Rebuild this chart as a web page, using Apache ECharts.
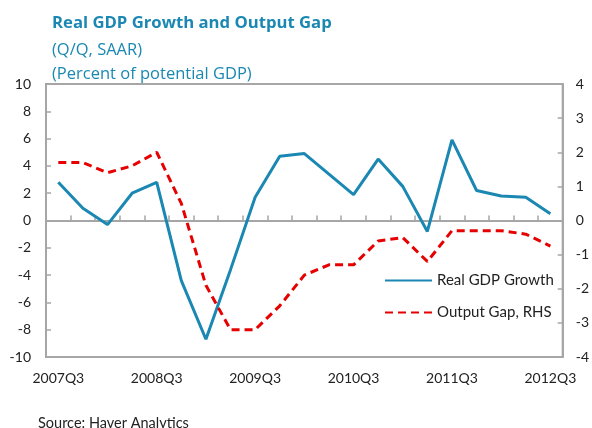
<!DOCTYPE html>
<html>
<head>
<meta charset="utf-8">
<script src="https://cdn.jsdelivr.net/npm/echarts@6/dist/echarts.min.js"></script>
<style>
html,body{margin:0;padding:0;background:#fff;}
#chart{width:592px;height:428px;}
</style>
</head>
<body>
<div id="chart"></div>
<script>
var categories = ['2007Q3','2007Q4','2008Q1','2008Q2','2008Q3','2008Q4','2009Q1','2009Q2','2009Q3','2009Q4','2010Q1','2010Q2','2010Q3','2010Q4','2011Q1','2011Q2','2011Q3','2011Q4','2012Q1','2012Q2','2012Q3'];
var gdpGrowth = [2.8, 0.9, -0.3, 2.0, 2.8, -4.4, -8.7, -3.6, 1.7, 4.7, 4.9, 3.4, 1.9, 4.5, 2.5, -0.8, 5.9, 2.2, 1.8, 1.7, 0.5];
var outputGap = [1.7, 1.7, 1.4, 1.6, 2.0, 0.5, -1.9, -3.2, -3.2, -2.5, -1.6, -1.3, -1.3, -0.6, -0.5, -1.2, -0.3, -0.3, -0.3, -0.4, -0.75];
var leftTicks = {min: -10, max: 10, interval: 2};
var rightTicks = {min: -4, max: 4, interval: 1};

var FONT = 'Lato';
var TFONT = 'Open Sans';
var GRAY = '#a6a6a6';
var TXT = '#222222';
var BLUE = '#1a88b2';
var RED = '#e60000';

var chart = echarts.init(document.getElementById('chart'));
chart.setOption({
  animation: false,
  backgroundColor: '#ffffff',
  textStyle: {fontFamily: FONT},
  title: [
    {text: 'Real GDP Growth and Output Gap', left: 47, top: 10, textStyle: {fontFamily: TFONT, fontSize: 16.7, fontWeight: 'bold', color: BLUE}},
    {text: '(Q/Q, SAAR)', left: 47, top: 37, textStyle: {fontFamily: TFONT, fontSize: 16.5, fontWeight: 'normal', color: BLUE}},
    {text: '(Percent of potential GDP)', left: 47, top: 61, textStyle: {fontFamily: TFONT, fontSize: 16.5, fontWeight: 'normal', color: BLUE}},
    {text: 'Source: Haver Analytics', left: 33, top: 411, textStyle: {fontFamily: FONT, fontSize: 14.5, fontWeight: 'normal', color: TXT}}
  ],
  grid: {left: 46, right: 25, top: 84, bottom: 71, show: true, borderColor: GRAY, borderWidth: 2, backgroundColor: 'transparent'},
  legend: {
    orient: 'vertical', left: 379, top: 268, itemWidth: 47, itemHeight: 14, itemGap: 17,
    itemStyle: {color: 'transparent', borderWidth: 0, opacity: 0},
    textStyle: {fontFamily: FONT, fontSize: 15, color: TXT},
    data: ['Real GDP Growth', 'Output Gap, RHS']
  },
  xAxis: [
    {
      type: 'category', data: categories, position: 'bottom', boundaryGap: true,
      axisLine: {show: false, onZero: false},
      axisTick: {show: false},
      axisLabel: {interval: 3, color: TXT, fontSize: 14, fontFamily: FONT, margin: 14}
    },
    {
      type: 'category', data: categories, position: 'top', boundaryGap: true,
      axisLine: {show: true, onZero: true, lineStyle: {color: GRAY, width: 2}},
      axisTick: {show: true, interval: 0, length: 5, lineStyle: {color: GRAY, width: 1.5}},
      axisLabel: {show: false}
    }
  ],
  yAxis: [
    {
      type: 'value', min: leftTicks.min, max: leftTicks.max, interval: leftTicks.interval, position: 'left',
      axisLine: {show: true, lineStyle: {color: GRAY, width: 2}},
      axisTick: {show: true, inside: true, length: 5, lineStyle: {color: GRAY, width: 1.5}},
      splitLine: {show: false},
      axisLabel: {color: TXT, fontSize: 14, fontFamily: FONT, margin: 15}
    },
    {
      type: 'value', min: rightTicks.min, max: rightTicks.max, interval: rightTicks.interval, position: 'right',
      axisLine: {show: true, lineStyle: {color: GRAY, width: 2}},
      axisTick: {show: true, inside: true, length: 5, lineStyle: {color: GRAY, width: 1.5}},
      splitLine: {show: false},
      axisLabel: {color: TXT, fontSize: 14, fontFamily: FONT, margin: 13}
    }
  ],
  series: [
    {
      name: 'Real GDP Growth', type: 'line', xAxisIndex: 0, yAxisIndex: 0, data: gdpGrowth,
      symbol: 'none', showSymbol: false,
      lineStyle: {color: BLUE, width: 3}, itemStyle: {color: BLUE}, z: 3
    },
    {
      name: 'Output Gap, RHS', type: 'line', xAxisIndex: 0, yAxisIndex: 1, data: outputGap,
      symbol: 'none', showSymbol: false,
      lineStyle: {color: RED, width: 3, type: [8, 5]}, itemStyle: {color: RED}, z: 4
    }
  ]
});
</script>
</body>
</html>
